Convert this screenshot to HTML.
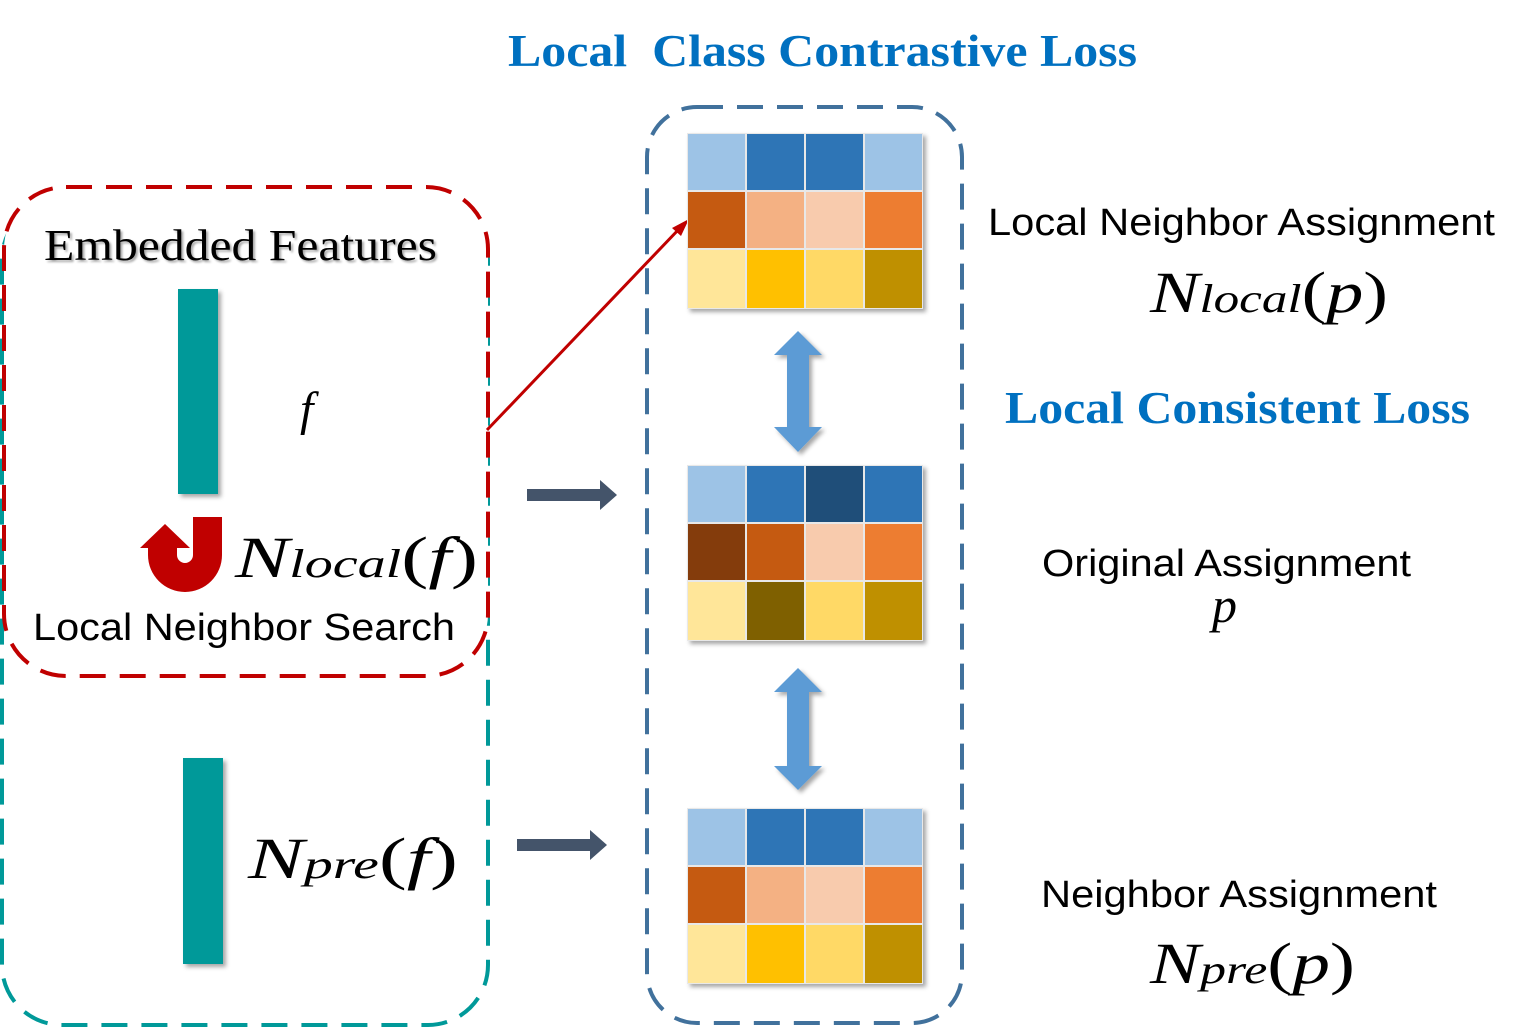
<!DOCTYPE html>
<html><head><style>
body{margin:0;background:#fff;}
svg{display:block;}
.m{font-family:"Liberation Serif",serif;font-style:italic;}
.s{font-family:"Liberation Sans",sans-serif;}
</style></head><body>
<svg width="1533" height="1029" viewBox="0 0 1533 1029" xmlns="http://www.w3.org/2000/svg">
<defs>
<filter id="sh" x="-10%" y="-10%" width="130%" height="130%"><feDropShadow dx="3" dy="3" stdDeviation="2" flood-color="#000" flood-opacity="0.35"/></filter>
</defs>
<rect x="2" y="200" width="486" height="825" rx="60" fill="none" stroke="#009999" stroke-width="4" stroke-dasharray="26,14"/>
<rect x="4" y="187" width="484" height="489" rx="62" fill="#fff" stroke="#c00000" stroke-width="4" stroke-dasharray="26,14"/>
<rect x="647" y="107" width="315" height="916" rx="50" fill="none" stroke="#41719c" stroke-width="4" stroke-dasharray="26,14"/>

<text x="508" y="66" font-family="Liberation Serif,serif" font-weight="bold" font-size="45" fill="#0070c0" xml:space="preserve" textLength="629" lengthAdjust="spacingAndGlyphs">Local  Class Contrastive Loss</text>
<text x="1005" y="423" font-family="Liberation Serif,serif" font-weight="bold" font-size="45" fill="#0070c0" textLength="465" lengthAdjust="spacingAndGlyphs">Local Consistent Loss</text>

<text x="44" y="260" font-family="Liberation Serif,serif" font-size="44" fill="#000" textLength="393" lengthAdjust="spacingAndGlyphs" style="filter:drop-shadow(2px 2px 1px rgba(0,0,0,.35))">Embedded Features</text>
<rect x="178" y="289" width="40" height="205" fill="#009999" filter="url(#sh)"/>
<text x="300" y="425" class="m" font-size="48">f</text>
<path d="M193,517 L222,517 L222,555 A37,37 0 0 1 148,555 L148,548 L140,548 L165,524 L190,548 L177,548 L177,555 A8,8 0 0 0 193,555 Z" fill="#c00000"/>
<text x="235" y="577" class="m" font-size="58" textLength="243" lengthAdjust="spacingAndGlyphs">N<tspan font-size="40">local</tspan><tspan font-style="normal">(</tspan>f<tspan font-style="normal">)</tspan></text>
<text x="33" y="640" class="s" font-size="38" textLength="422" lengthAdjust="spacingAndGlyphs">Local Neighbor Search</text>

<rect x="183" y="758" width="40" height="206" fill="#009999" filter="url(#sh)"/>
<text x="248" y="878" class="m" font-size="58" textLength="210" lengthAdjust="spacingAndGlyphs">N<tspan font-size="40">pre</tspan><tspan font-style="normal">(</tspan>f<tspan font-style="normal">)</tspan></text>

<path d="M527,489 L600,489 L600,480 L617,495 L600,510 L600,501 L527,501 Z" fill="#44546a"/>
<path d="M517,839 L590,839 L590,830 L607,845 L590,860 L590,851 L517,851 Z" fill="#44546a"/>

<line x1="487" y1="430" x2="680" y2="228" stroke="#c00000" stroke-width="3"/>
<path d="M689,219 L672,228 L681,236 Z" fill="#c00000"/>

<g filter="url(#sh)">
<rect x="687" y="133" width="236" height="176" fill="#e8e8e8"/>
<rect x="687" y="465" width="236" height="176" fill="#e8e8e8"/>
<rect x="687" y="808" width="236" height="176" fill="#e8e8e8"/>
</g>
<g>
<rect x="688" y="134" width="57" height="56" fill="#9dc3e6"/><rect x="747" y="134" width="57" height="56" fill="#2e75b6"/><rect x="806" y="134" width="57" height="56" fill="#2e75b6"/><rect x="865" y="134" width="57" height="56" fill="#9dc3e6"/>
<rect x="688" y="192" width="57" height="56" fill="#c55a11"/><rect x="747" y="192" width="57" height="56" fill="#f4b183"/><rect x="806" y="192" width="57" height="56" fill="#f8cbad"/><rect x="865" y="192" width="57" height="56" fill="#ed7d31"/>
<rect x="688" y="250" width="57" height="58" fill="#ffe699"/><rect x="747" y="250" width="57" height="58" fill="#ffc000"/><rect x="806" y="250" width="57" height="58" fill="#ffd966"/><rect x="865" y="250" width="57" height="58" fill="#bf9000"/>
</g>
<g>
<rect x="688" y="466" width="57" height="56" fill="#9dc3e6"/><rect x="747" y="466" width="57" height="56" fill="#2e75b6"/><rect x="806" y="466" width="57" height="56" fill="#1f4e79"/><rect x="865" y="466" width="57" height="56" fill="#2e75b6"/>
<rect x="688" y="524" width="57" height="56" fill="#843c0c"/><rect x="747" y="524" width="57" height="56" fill="#c55a11"/><rect x="806" y="524" width="57" height="56" fill="#f8cbad"/><rect x="865" y="524" width="57" height="56" fill="#ed7d31"/>
<rect x="688" y="582" width="57" height="58" fill="#ffe699"/><rect x="747" y="582" width="57" height="58" fill="#7f6000"/><rect x="806" y="582" width="57" height="58" fill="#ffd966"/><rect x="865" y="582" width="57" height="58" fill="#bf9000"/>
</g>
<g>
<rect x="688" y="809" width="57" height="56" fill="#9dc3e6"/><rect x="747" y="809" width="57" height="56" fill="#2e75b6"/><rect x="806" y="809" width="57" height="56" fill="#2e75b6"/><rect x="865" y="809" width="57" height="56" fill="#9dc3e6"/>
<rect x="688" y="867" width="57" height="56" fill="#c55a11"/><rect x="747" y="867" width="57" height="56" fill="#f4b183"/><rect x="806" y="867" width="57" height="56" fill="#f8cbad"/><rect x="865" y="867" width="57" height="56" fill="#ed7d31"/>
<rect x="688" y="925" width="57" height="58" fill="#ffe699"/><rect x="747" y="925" width="57" height="58" fill="#ffc000"/><rect x="806" y="925" width="57" height="58" fill="#ffd966"/><rect x="865" y="925" width="57" height="58" fill="#bf9000"/>
</g>

<g fill="#5b9bd5" filter="url(#sh)">
<path d="M798,331 L822,355 L809,355 L809,427 L822,427 L798,452 L774,427 L787,427 L787,355 L774,355 Z"/>
<path d="M798,668 L822,692 L809,692 L809,766 L822,766 L798,790 L774,766 L787,766 L787,692 L774,692 Z"/>
</g>

<text x="988" y="235" class="s" font-size="38" textLength="507" lengthAdjust="spacingAndGlyphs">Local Neighbor Assignment</text>
<text x="1150" y="312" class="m" font-size="58" textLength="238" lengthAdjust="spacingAndGlyphs">N<tspan font-size="40">local</tspan><tspan font-style="normal">(</tspan>p<tspan font-style="normal">)</tspan></text>
<text x="1042" y="576" class="s" font-size="38" textLength="369" lengthAdjust="spacingAndGlyphs">Original Assignment</text>
<text x="1212" y="622" class="m" font-size="50">p</text>
<text x="1041" y="907" class="s" font-size="38" textLength="396" lengthAdjust="spacingAndGlyphs">Neighbor Assignment</text>
<text x="1150" y="983" class="m" font-size="58" textLength="205" lengthAdjust="spacingAndGlyphs">N<tspan font-size="40">pre</tspan><tspan font-style="normal">(</tspan>p<tspan font-style="normal">)</tspan></text>
</svg>
</body></html>
